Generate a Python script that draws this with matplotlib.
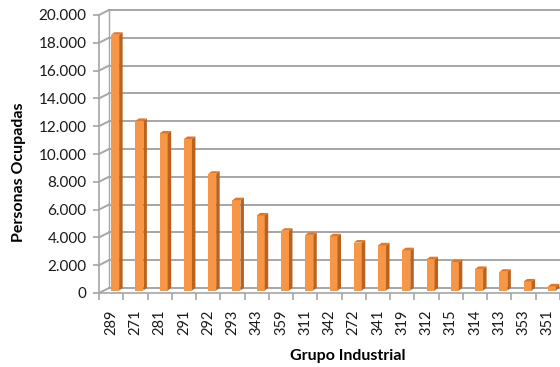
import matplotlib
matplotlib.use("Agg")
import matplotlib.pyplot as plt
from matplotlib.patches import Polygon
from matplotlib.ticker import FuncFormatter

grupos = ["289", "271", "281", "291", "292", "293", "343", "359", "311", "342",
          "272", "341", "319", "312", "315", "314", "313", "353", "351"]
ocupados = [18400, 12200, 11300, 10900, 8400, 6500, 5400, 4300, 4000, 3900,
            3450, 3250, 2900, 2250, 2050, 1550, 1350, 650, 300]
y_ticks = [0, 2000, 4000, 6000, 8000, 10000, 12000, 14000, 16000, 18000, 20000]

plt.rcParams['font.family'] = ['Lato', 'DejaVu Sans']

W, H = 560, 367
fig = plt.figure(figsize=(W / 100, H / 100), dpi=100)
ax = fig.add_axes([99 / W, 74 / H, 461 / W, 278 / H])
n = len(grupos)
ax.set_xlim(-0.5, n - 0.5)
ax.set_ylim(0, 20000)

# pixel -> data unit helpers
ux = n / 461.0
uy = 20000 / 278.0

grid_c = "#a6a6a6"
# back wall offset of 3d chart
bx, by = 10 * ux, 5 * uy
for v in y_ticks:
    ax.plot([-0.5, -0.5 + bx], [v, v + by], color=grid_c, lw=1.4, clip_on=False, zorder=1)
    ax.plot([-0.5 + bx, n - 0.5], [v + by, v + by], color=grid_c, lw=1.4, clip_on=False, zorder=1)
ax.plot([-0.5 + bx, -0.5 + bx], [by, 20000 + by], color=grid_c, lw=1.0, clip_on=False, zorder=1)

# bars: front face, side face, top face
bw = 8 * ux
ox, oy = 4 * ux, 2.5 * uy
sx, sy = 3.5 * ux, 2.5 * uy
for i, v in enumerate(ocupados):
    x0 = i - bw / 2 + ox
    x1 = x0 + bw
    y0 = oy
    y1 = v + oy
    ax.add_patch(Polygon([(x0, y0), (x1, y0), (x1, y1), (x0, y1)], closed=True,
                         facecolor="#f79646", edgecolor="none", zorder=3, clip_on=False))
    ax.add_patch(Polygon([(x1, y0), (x1 + sx, y0 + sy), (x1 + sx, y1 + sy), (x1, y1)], closed=True,
                         facecolor="#b9631f", edgecolor="none", zorder=3, clip_on=False))
    ax.add_patch(Polygon([(x0, y1), (x1, y1), (x1 + sx, y1 + sy), (x0 + sx, y1 + sy)], closed=True,
                         facecolor="#d9782f", edgecolor="none", zorder=3, clip_on=False))

for s in ["top", "right"]:
    ax.spines[s].set_visible(False)
for s in ["left", "bottom"]:
    ax.spines[s].set_color(grid_c)
    ax.spines[s].set_linewidth(1.2)

ax.set_yticks(y_ticks)
ax.yaxis.set_major_formatter(FuncFormatter(lambda v, p: f"{int(v):,}".replace(",", ".")))
ax.set_xticks(range(n))
ax.set_xticklabels(grupos, rotation=90)
ax.set_xticks([i - 0.5 for i in range(n + 1)], minor=True)
ax.tick_params(axis="x", which="major", length=0, pad=12, labelsize=10.5, colors="#1a1a1a")
ax.tick_params(axis="x", which="minor", length=5, color=grid_c, width=1.2)
ax.tick_params(axis="y", length=4, color=grid_c, width=1.2, pad=5, labelsize=11, labelcolor="#1a1a1a")

ax.set_xlabel("Grupo Industrial", fontsize=11.5, fontweight="bold", va="center")
ax.xaxis.set_label_coords((348 - 99) / 461, -(356 - 293) / 278)
ax.set_ylabel("Personas Ocupadas", fontsize=11.5, fontweight="bold", va="center")
ax.yaxis.set_label_coords((19 - 99) / 461, (293 - 172.5) / 278)

fig.savefig("out.png", dpi=100)
